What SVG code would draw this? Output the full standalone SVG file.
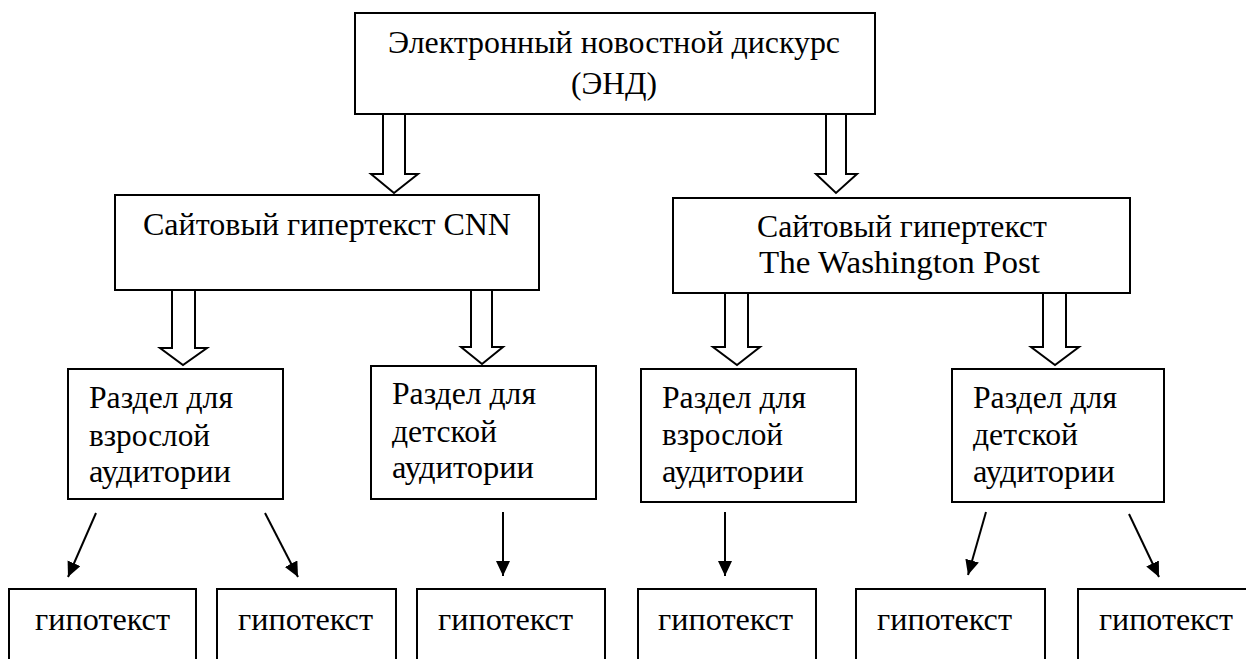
<svg xmlns="http://www.w3.org/2000/svg" width="1246" height="659" viewBox="0 0 1246 659">
<style>
.box{fill:#fff;stroke:#000;stroke-width:2}
.blk{fill:#fff;stroke:#000;stroke-width:2;stroke-linejoin:miter}
.ln{stroke:#000;stroke-width:2;fill:none}
text{font-family:"Liberation Serif","DejaVu Serif","Times New Roman",serif;font-size:31px;fill:#000}
</style>
<defs>
<marker id="ah" markerUnits="userSpaceOnUse" markerWidth="16" markerHeight="16" refX="15" refY="7" orient="auto">
<path d="M0,0 L15,7 L0,14 z" fill="#000"/>
</marker>
</defs>
<rect width="1246" height="659" fill="#fff"/>
<g id="connectors">
<polygon class="blk" points="383,114 405,114 405,174 418,174 394,193 371,174 383,174"/>
<polygon class="blk" points="826,114 846,114 846,174 857,174 836,193 816,174 826,174"/>
<polygon class="blk" points="172,290 195,290 195,348 207,348 183,365 160,348 172,348"/>
<polygon class="blk" points="471,290 492,290 492,347 503,347 482,364 461,347 471,347"/>
<polygon class="blk" points="725,293 748,293 748,347 760,347 737,365 713,347 725,347"/>
<polygon class="blk" points="1043,293 1066,293 1066,347 1079,347 1055,365 1031,347 1043,347"/>
<line class="ln" x1="96" y1="513" x2="68" y2="577" marker-end="url(#ah)"/>
<line class="ln" x1="265" y1="513" x2="298" y2="577" marker-end="url(#ah)"/>
<line class="ln" x1="503" y1="512" x2="503" y2="576" marker-end="url(#ah)"/>
<line class="ln" x1="725" y1="512" x2="725" y2="576" marker-end="url(#ah)"/>
<line class="ln" x1="986" y1="512" x2="968" y2="575" marker-end="url(#ah)"/>
<line class="ln" x1="1129" y1="514" x2="1159" y2="577" marker-end="url(#ah)"/>
</g>
<g id="end">
<rect class="box" x="355" y="13" width="520" height="101"/>
<text x="388" y="53" textLength="452" lengthAdjust="spacingAndGlyphs">Электронный новостной дискурс</text>
<text x="571" y="94" textLength="86" lengthAdjust="spacingAndGlyphs">(ЭНД)</text>
</g>
<g id="cnn">
<rect class="box" x="115" y="195" width="424" height="95"/>
<text x="143" y="235" textLength="368" lengthAdjust="spacingAndGlyphs">Сайтовый гипертекст CNN</text>
</g>
<g id="wp">
<rect class="box" x="673" y="198" width="457" height="95"/>
<text x="757" y="237" textLength="290" lengthAdjust="spacingAndGlyphs">Сайтовый гипертекст</text>
<text x="759" y="273" textLength="281" lengthAdjust="spacingAndGlyphs">The Washington Post</text>
</g>
<g id="cnn-adult">
<rect class="box" x="68" y="369" width="215" height="130"/>
<text x="89" y="408" textLength="144" lengthAdjust="spacingAndGlyphs">Раздел для</text>
<text x="89" y="446" textLength="121" lengthAdjust="spacingAndGlyphs">взрослой</text>
<text x="89" y="482" textLength="142" lengthAdjust="spacingAndGlyphs">аудитории</text>
</g>
<g id="cnn-kids">
<rect class="box" x="371" y="366" width="225" height="133"/>
<text x="392" y="404" textLength="144" lengthAdjust="spacingAndGlyphs">Раздел для</text>
<text x="392" y="442" textLength="105" lengthAdjust="spacingAndGlyphs">детской</text>
<text x="392" y="478" textLength="142" lengthAdjust="spacingAndGlyphs">аудитории</text>
</g>
<g id="wp-adult">
<rect class="box" x="641" y="369" width="215" height="133"/>
<text x="662" y="408" textLength="144" lengthAdjust="spacingAndGlyphs">Раздел для</text>
<text x="662" y="445" textLength="121" lengthAdjust="spacingAndGlyphs">взрослой</text>
<text x="662" y="482" textLength="142" lengthAdjust="spacingAndGlyphs">аудитории</text>
</g>
<g id="wp-kids">
<rect class="box" x="952" y="369" width="212" height="133"/>
<text x="973" y="408" textLength="144" lengthAdjust="spacingAndGlyphs">Раздел для</text>
<text x="973" y="445" textLength="105" lengthAdjust="spacingAndGlyphs">детской</text>
<text x="973" y="482" textLength="142" lengthAdjust="spacingAndGlyphs">аудитории</text>
</g>
<g id="hypo1">
<rect class="box" x="9" y="589" width="187" height="90"/>
<text x="35" y="630" textLength="135" lengthAdjust="spacingAndGlyphs">гипотекст</text>
</g>
<g id="hypo2">
<rect class="box" x="217" y="589" width="179" height="90"/>
<text x="238" y="630" textLength="135" lengthAdjust="spacingAndGlyphs">гипотекст</text>
</g>
<g id="hypo3">
<rect class="box" x="417" y="589" width="188" height="90"/>
<text x="438" y="630" textLength="135" lengthAdjust="spacingAndGlyphs">гипотекст</text>
</g>
<g id="hypo4">
<rect class="box" x="638" y="589" width="178" height="90"/>
<text x="658" y="630" textLength="135" lengthAdjust="spacingAndGlyphs">гипотекст</text>
</g>
<g id="hypo5">
<rect class="box" x="856" y="589" width="189" height="90"/>
<text x="877" y="630" textLength="135" lengthAdjust="spacingAndGlyphs">гипотекст</text>
</g>
<g id="hypo6">
<rect class="box" x="1078" y="589" width="180" height="90"/>
<text x="1099" y="630" textLength="134" lengthAdjust="spacingAndGlyphs">гипотекст</text>
</g>
</svg>
